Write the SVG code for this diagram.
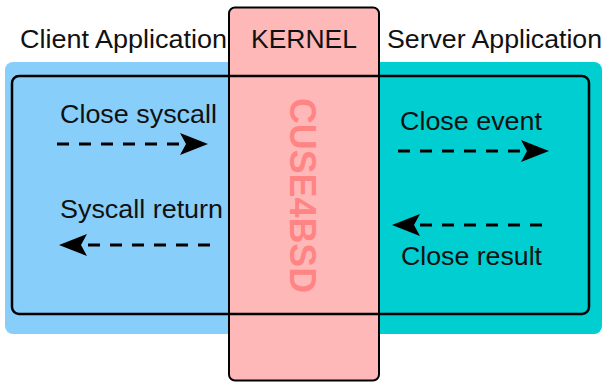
<svg xmlns="http://www.w3.org/2000/svg" width="607" height="382" viewBox="0 0 607 382">
  <style>
    .lbl { font-family: "Liberation Sans", Arial, sans-serif; font-size: 26px; fill: #111; }
    .arrow { stroke: #000; stroke-width: 3; stroke-dasharray: 12 10; fill: none; marker-end: url(#head); }
    .frame { fill: none; stroke: #000; stroke-width: 2.5; }
  </style>
  <defs>
    <marker id="head" viewBox="0 -11 28 22" refX="6" refY="0" markerWidth="28" markerHeight="22" markerUnits="userSpaceOnUse" orient="auto">
      <path d="M0,-11 L28,0 L0,11 L6,0 Z" fill="#000"/>
    </marker>
  </defs>
  <rect width="607" height="382" fill="#fff"/>

  <g id="client">
    <rect x="5" y="62" width="260" height="272" rx="8" fill="#87CEFA"/>
    <text class="lbl" x="20" y="48" textLength="207" lengthAdjust="spacingAndGlyphs">Client Application</text>
  </g>

  <g id="server">
    <rect x="340" y="62" width="262" height="272" rx="8" fill="#00CED1"/>
    <text class="lbl" x="387" y="48" textLength="215" lengthAdjust="spacingAndGlyphs">Server Application</text>
  </g>

  <g id="kernel">
    <rect x="229" y="7.5" width="150" height="373" rx="6" fill="#FFB8B8" stroke="#000" stroke-width="2"/>
    <text class="lbl" x="251" y="48" textLength="106" lengthAdjust="spacingAndGlyphs">KERNEL</text>
    <text transform="translate(290,98) rotate(90)" x="0" y="0" font-family="'Liberation Sans', Arial, sans-serif" font-weight="bold" font-size="36" fill="#FF8585" textLength="195" lengthAdjust="spacingAndGlyphs">CUSE4BSD</text>
  </g>

  <g id="frame">
    <rect class="frame" x="12" y="76" width="577" height="238" rx="7"/>
  </g>

  <g id="connectors">
    <line class="arrow" x1="57" y1="144" x2="186" y2="144"/>
    <line class="arrow" x1="398" y1="151" x2="527" y2="151"/>
    <line class="arrow" x1="210" y1="245" x2="81" y2="245"/>
    <line class="arrow" x1="542" y1="225" x2="414" y2="225"/>
    <text class="lbl" x="60" y="123" textLength="157" lengthAdjust="spacingAndGlyphs">Close syscall</text>
    <text class="lbl" x="400" y="130" textLength="142" lengthAdjust="spacingAndGlyphs">Close event</text>
    <text class="lbl" x="60" y="218" textLength="163" lengthAdjust="spacingAndGlyphs">Syscall return</text>
    <text class="lbl" x="401" y="265" textLength="141" lengthAdjust="spacingAndGlyphs">Close result</text>
  </g>
</svg>
